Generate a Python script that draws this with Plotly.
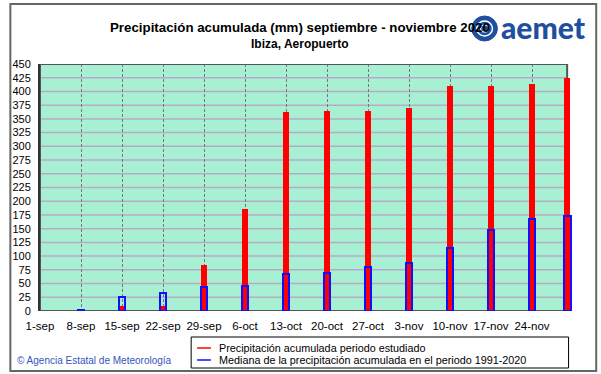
import plotly.graph_objects as go

# ---------------- data ----------------
tick_dates = ["2020-09-01", "2020-09-08", "2020-09-15", "2020-09-22", "2020-09-29",
              "2020-10-06", "2020-10-13", "2020-10-20", "2020-10-27", "2020-11-03",
              "2020-11-10", "2020-11-17", "2020-11-24"]
tick_labels = ["1-sep", "8-sep", "15-sep", "22-sep", "29-sep", "6-oct", "13-oct",
               "20-oct", "27-oct", "3-nov", "10-nov", "17-nov", "24-nov"]
bar_dates = ["2020-09-08", "2020-09-15", "2020-09-22", "2020-09-29", "2020-10-06",
             "2020-10-13", "2020-10-20", "2020-10-27", "2020-11-03", "2020-11-10",
             "2020-11-17", "2020-11-24", "2020-11-30"]
precip_period = [0, 9.8, 9.8, 83.8, 185.8, 362.5, 363.7, 363.7, 369.8, 409.8, 409.8, 413.8, 425.4]
precip_median = [1.5, 25, 32.8, 43, 45, 67, 68.7, 80, 87.4, 115.3, 148, 168, 173]
y_ticks = list(range(0, 451, 25))

title_line1 = "Precipitación acumulada (mm) septiembre - noviembre 2020"
title_line2 = "Ibiza, Aeropuerto"
legend_labels = ["Precipitación acumulada periodo estudiado",
                 "Mediana de la precipitación acumulada en el periodo 1991-2020"]
credit_text = "© Agencia Estatal de Meteorología"

# ---------------- layout geometry ----------------
W, H = 601, 374
L, R, T, B = 34, 27.5, 64, 63
plot_w = W - L - R
plot_h = H - T - B
DAY = 86400000

def px(x):
    return (x - L) / plot_w

def py(y):
    return (H - B - y) / plot_h

FONT = "Liberation Sans, Arial, sans-serif"
RED = "#ff0000"
BLUE = "#1010ff"
MINT = "#a8f0d4"
LOGO = "#1f4f9f"

fig = go.Figure()
fig.add_trace(go.Bar(x=bar_dates, y=precip_period, width=1.01 * DAY,
                     marker=dict(color=RED, line=dict(width=0)),
                     name=legend_labels[0], showlegend=False, hoverinfo="skip"))
fig.add_trace(go.Bar(x=bar_dates, y=precip_median, width=1.18 * DAY,
                     marker=dict(color="rgba(0,0,0,0)", line=dict(color=BLUE, width=2)),
                     name=legend_labels[1], showlegend=False, hoverinfo="skip"))

shapes = []
x_start, x_end = tick_dates[0], bar_dates[-1]
shapes.append(dict(type="rect", xref="x", yref="y", x0=x_start, x1=x_end, y0=0, y1=y_ticks[-1],
                   fillcolor=MINT, line=dict(width=0), layer="below"))
for v in y_ticks[1:-1]:
    shapes.append(dict(type="line", xref="x", yref="y", x0=x_start, x1=x_end, y0=v, y1=v,
                       line=dict(color="#b8acc4", width=1.5), layer="below"))
shapes.append(dict(type="rect", xref="x", yref="y", x0=x_start, x1=x_end, y0=0, y1=y_ticks[-1],
                   line=dict(color="#555555", width=2), layer="between"))
shapes.append(dict(type="rect", xref="paper", yref="paper", x0=px(4), x1=px(597), y0=py(371), y1=py(4),
                   line=dict(color="#666666", width=2), layer="above"))
shapes.append(dict(type="rect", xref="paper", yref="paper", x0=px(187), x1=px(569), y0=py(368), y1=py(337),
                   line=dict(color="#000000", width=1), fillcolor="white", layer="above"))
for yy, col in [(348, RED), (360, BLUE)]:
    shapes.append(dict(type="line", xref="paper", yref="paper", x0=px(193), x1=px(207), y0=py(yy), y1=py(yy),
                       line=dict(color=col, width=1.5), layer="above"))
# logo emblem (decorative)
shapes.append(dict(type="circle", xref="paper", yref="paper", x0=px(471), x1=px(497), y0=py(41), y1=py(16),
                   fillcolor=LOGO, line=dict(color=LOGO, width=1), layer="above"))
shapes.append(dict(type="circle", xref="paper", yref="paper", x0=px(476), x1=px(492), y0=py(36), y1=py(21),
                   fillcolor="rgba(0,0,0,0)", line=dict(color="white", width=1.5), layer="above"))
shapes.append(dict(type="circle", xref="paper", yref="paper", x0=px(480), x1=px(488), y0=py(32), y1=py(25),
                   fillcolor="rgba(0,0,0,0)", line=dict(color="white", width=1.2), layer="above"))

annotations = [
    dict(text=title_line1, xref="paper", yref="paper", x=px(297.5), y=py(27.7), xanchor="center",
         yanchor="middle", showarrow=False, font=dict(family=FONT, size=13.3, color="#000000", weight="bold")),
    dict(text=title_line2, xref="paper", yref="paper", x=px(297), y=py(44.3), xanchor="center",
         yanchor="middle", showarrow=False, font=dict(family=FONT, size=12, color="#000000", weight="bold")),
    dict(text="aemet", xref="paper", yref="paper", x=px(499), y=py(27), xanchor="left", yanchor="middle",
         showarrow=False, font=dict(family="Lato, Liberation Sans", size=30, color=LOGO, weight=900)),
    dict(text=legend_labels[0], xref="paper", yref="paper", x=px(213), y=py(348), xanchor="left",
         yanchor="middle", showarrow=False, font=dict(family=FONT, size=10.8, color="#000000")),
    dict(text=legend_labels[1], xref="paper", yref="paper", x=px(213), y=py(360), xanchor="left",
         yanchor="middle", showarrow=False, font=dict(family=FONT, size=10.8, color="#000000")),
    dict(text=credit_text, xref="paper", yref="paper", x=px(9), y=py(360), xanchor="left",
         yanchor="middle", showarrow=False, font=dict(family=FONT, size=10, color="#3355bb")),
]

fig.update_layout(
    width=W, height=H,
    margin=dict(l=L, r=R, t=T, b=B, pad=0),
    paper_bgcolor="white", plot_bgcolor="white",
    barmode="overlay", bargap=0,
    showlegend=False, hovermode=False,
    shapes=shapes, annotations=annotations,
    font=dict(family=FONT, size=11, color="#000000"),
)
fig.update_xaxes(type="date", range=["2020-09-01", "2020-12-01"],
                 tickmode="array", tickvals=tick_dates, ticktext=tick_labels,
                 showgrid=True, gridcolor="#777777", gridwidth=1, griddash="3px,2px",
                 showline=False, zeroline=False, ticks="", ticklabelstandoff=6,
                 tickfont=dict(family=FONT, size=11.5, color="#000000"))
fig.update_yaxes(range=[0, 450], tickmode="array", tickvals=y_ticks,
                 showgrid=False, zeroline=False, showline=True, linecolor="#333333", linewidth=2,
                 ticks="", ticklabelstandoff=5,
                 tickfont=dict(family=FONT, size=11, color="#000000"))

fig.write_html("out.html", config={"displayModeBar": False},
               post_script="document.body.style.margin='0';document.body.style.overflow='hidden';")
